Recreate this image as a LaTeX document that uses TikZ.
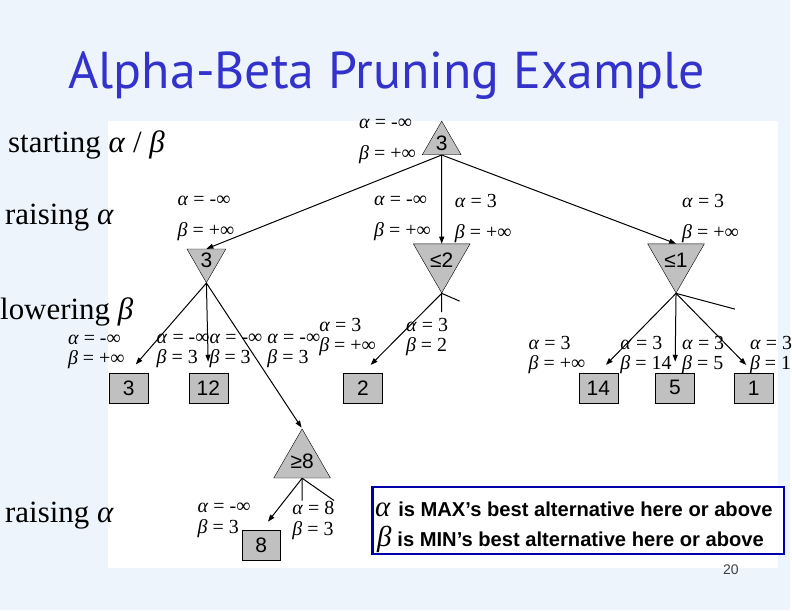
\documentclass[tikz,border=0pt]{standalone}
\usepackage{fontspec}
\setmainfont{Liberation Serif}
\setsansfont{Liberation Sans}
\newfontfamily\titlefont{PT Sans}
\usetikzlibrary{arrows.meta, positioning, shapes.geometric}

\definecolor{slidebg}{RGB}{238,244,252}
\definecolor{titleblue}{RGB}{51,51,204}
\definecolor{nodegray}{RGB}{192,192,192}
\definecolor{keyblue}{RGB}{0,0,170}

% alpha/beta pair as printed beside a branch
\newcommand{\albe}[2]{\textit{α} = #1\\\textit{β} = #2}
\newcommand{\gk}[1]{{\rmfamily\mdseries\itshape\fontsize{29}{29}\selectfont #1}}

\begin{document}
\begin{tikzpicture}[x=1pt, y=-1pt,
    >={Triangle[length=7pt, width=5pt]},
    maxnode/.style={draw, fill=nodegray, regular polygon, regular polygon sides=3,
                    minimum size=45pt, inner sep=0pt,
                    font=\sffamily\fontsize{21}{21}\selectfont},
    minnode/.style={maxnode, shape border rotate=180},
    leaf/.style={draw, fill=nodegray, minimum width=39pt, minimum height=30pt,
                 inner sep=0pt, font=\sffamily\fontsize{21}{21}\selectfont},
    ab/.style={anchor=west, align=left, inner sep=0pt,
               font=\fontsize{20}{20.5}\selectfont},
    abwide/.style={ab, font=\fontsize{20}{31}\selectfont},
    stage/.style={anchor=base west, inner sep=0pt,
                  font=\fontsize{31}{31}\selectfont},
    branch/.style={->, line width=1pt},
    toleaf/.style={branch, shorten >=11pt},
    cut/.style={line width=1pt},
    keyline/.style={anchor=base west, inner sep=0pt,
                    font=\sffamily\bfseries\fontsize{20.2}{20.2}\selectfont}
  ]
  % slide and panel
  \fill[slidebg] (0,0) rectangle (792,612);
  \fill[white] (108,121) rectangle (780,570);

  \node[font=\titlefont\fontsize{52}{52}\selectfont, text=titleblue]
    (title) at (388,76) {Alpha-Beta Pruning Example};

  % stages on the left
  \node[stage] (start) at (8,153) {starting \textit{α} / \textit{β}};
  \node[stage] (raise1) at (5,225) {raising \textit{α}};
  \node[stage] (lower) at (0,320) {lowering \textit{β}};
  \node[stage] (raise2) at (5,524) {raising \textit{α}};

  % tree
  \node[maxnode] (root) at (443,144) {3};
  \node[minnode] (mina) at (207,261) {3};
  \node[minnode] (minb) at (443,261) {≤2};
  \node[minnode] (minc) at (678,261) {≤1};
  \node[maxnode] (maxd) at (303,463) {≥8};

  \node[leaf] (l3) at (129,389) {3};
  \node[leaf] (l12) at (209,389) {12};
  \node[leaf] (l2) at (364,389) {2};
  \node[leaf] (l14) at (600,389) {14};
  \node[leaf] (l5) at (677,389) {5};
  \node[leaf] (l1) at (756,389) {1};
  \node[leaf] (l8) at (262,547) {8};

  \coordinate (cutb1) at (443,313);
  \coordinate (cutb2) at (461,302);
  \coordinate (cutc) at (737,310);
  \coordinate (cutd1) at (303,502);
  \coordinate (cutd2) at (335,502);

  \draw[branch] (root.south) -- (mina.north);
  \draw[branch] (root.south) -- (minb.north);
  \draw[branch] (root.south) -- (minc.north);

  \draw[toleaf] (mina.south) -- (l3.north);
  \draw[toleaf] (mina.south) -- (l12.north);
  \draw[branch, shorten >=1pt] (mina.south) -- (maxd.north);

  \draw[toleaf] (minb.south) -- (l2.north);
  \draw[cut] (minb.south) -- (cutb1);
  \draw[cut] (minb.south) -- (cutb2);

  \draw[toleaf] (minc.south) -- (l14.north);
  \draw[toleaf] (minc.south) -- (l5.north);
  \draw[toleaf] (minc.south) -- (l1.north);
  \draw[cut] (minc.south) -- (cutc);

  \draw[toleaf] (maxd.south) -- (l8.north);
  \draw[cut] (maxd.south) -- (cutd1);
  \draw[cut] (maxd.south) -- (cutd2);

  % alpha/beta values
  \node[abwide] (abroot) at (360,142) {\albe{-∞}{+∞}};
  \node[abwide] (aba) at (178,219) {\albe{-∞}{+∞}};
  \node[abwide] (abb) at (375,219) {\albe{-∞}{+∞}};
  \node[abwide] (abbr) at (456,219) {\albe{3}{+∞}};
  \node[abwide] (abc) at (684,219) {\albe{3}{+∞}};

  \node[ab] (ab3) at (68,353) {\albe{-∞}{+∞}};
  \node[ab] (ab12) at (157,352) {\albe{-∞}{3}};
  \node[ab] (ab12r) at (210,352) {\albe{-∞}{3}};
  \node[ab] (abd) at (268,352) {\albe{-∞}{3}};
  \node[ab] (ab2) at (320,338) {\albe{3}{+∞}};
  \node[ab] (ab2r) at (407,338) {\albe{3}{2}};
  \node[ab] (ab14) at (530,356) {\albe{3}{+∞}};
  \node[ab] (ab14r) at (622,356) {\albe{3}{14}};
  \node[ab] (ab5r) at (684,356) {\albe{3}{5}};
  \node[ab] (ab1r) at (752,356) {\albe{3}{1}};
  \node[ab] (ab8) at (198,522) {\albe{-∞}{3}};
  \node[ab] (abd8) at (293,522) {\albe{8}{3}};

  % key
  \node[draw=keyblue, line width=2.5pt, fill=white, minimum width=413pt,
        minimum height=67pt, inner sep=0pt] (key) at (580,522) {};
  \node[keyline] (keya) at (376,518) {\gk{α}\hspace{8pt}is MAX’s best alternative here or above};
  \node[keyline] (keyb) at (378,548) {\gk{β}\hspace{6pt}is MIN’s best alternative here or above};

  \node[font=\sffamily\fontsize{14}{14}\selectfont, text=black!75]
    (pagenum) at (733,571) {20};
\end{tikzpicture}
\end{document}
